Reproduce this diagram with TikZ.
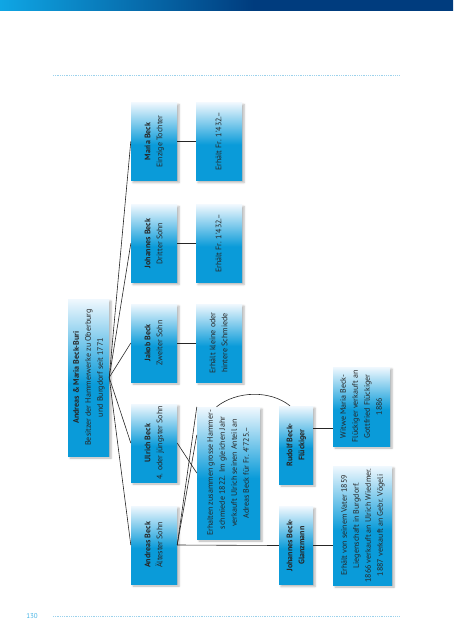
\documentclass[tikz,border=0pt]{standalone}
\usepackage{fontspec}
\setmainfont{PT Sans}
\usepackage{graphicx}
\usetikzlibrary{shadows.blur}

\definecolor{boxblue}{HTML}{0A9BD9}
\definecolor{boxlight}{HTML}{F0F8FE}
\definecolor{barlight}{HTML}{0FA6E4}
\definecolor{bardark}{HTML}{003C7E}
\definecolor{dotblue}{HTML}{9CD2EC}
\definecolor{pageblue}{HTML}{45B4E5}

\pgfdeclareverticalshading{boxfade}{100bp}{color(0bp)=(boxblue); color(48bp)=(boxblue); color(75bp)=(boxlight); color(100bp)=(boxlight)}
\pgfdeclarehorizontalshading{barfade}{100bp}{color(0bp)=(barlight); color(25bp)=(barlight); color(53bp)=(bardark); color(100bp)=(bardark)}

\newcommand{\vlab}[1]{\rotatebox{90}{\begin{tabular}{@{}c@{}}#1\end{tabular}}}

\tikzset{
  famBox/.style={rectangle, inner sep=0pt, shade, shading=boxfade, text=black!85,
    blur shadow={shadow xshift=2pt, shadow yshift=-2pt, shadow opacity=30, shadow blur radius=2pt},
    font=\fontsize{8}{12}\selectfont, minimum width=46pt, minimum height=78pt},
  link/.style={draw=black!85, line width=0.6pt},
  dotrule/.style={draw=dotblue, line width=0.6pt, dash pattern=on 0.6pt off 1.2pt},
}

\begin{document}
\begin{tikzpicture}[x=1pt,y=-1pt]
\useasboundingbox (0,0) rectangle (453,640);
% banner and page rules
\shade[shading=barfade] (0,0) rectangle (453,10);
\draw[dotrule] (53,75) -- (400,75);
\draw[dotrule] (53,616) -- (400,616);
\node[text=pageblue, font=\fontsize{7}{8}\selectfont] (pnum) at (32,616) {130};

% parents
\node[famBox, minimum width=41pt, minimum height=157pt] (eltern) at (88.5,377.5)
  {\vlab{\textbf{Andreas \& Maria Beck-Buri}\\Besitzer der Hammerwerke zu Oberburg\\und Burgdorf seit 1771}};

% children
\node[famBox] (maria) at (154,141.5) {\vlab{\textbf{Maria Beck}\\Einzige Tochter}};
\node[famBox] (johannes) at (154,243.5) {\vlab{\textbf{Johannes Beck}\\Dritter Sohn}};
\node[famBox] (jakob) at (154,343) {\vlab{\textbf{Jakob Beck}\\Zweiter Sohn}};
\node[famBox] (ulrich) at (154,443) {\vlab{\textbf{Ulrich Beck}\\4. oder jüngster Sohn}};
\node[famBox] (andreas) at (154,545) {\vlab{\textbf{Andreas Beck}\\Ältester Sohn}};

% shares
\node[famBox] (erhM) at (219,141.5) {\vlab{Erhält Fr. 1'432.–}};
\node[famBox] (erhJ) at (219,243.5) {\vlab{Erhält Fr. 1'432.–}};
\node[famBox] (erhK) at (219,343) {\vlab{Erhält kleine oder\\hintere Schmiede}};
\node[famBox, minimum width=63pt, minimum height=132pt] (erhZ) at (228.5,473)
  {\vlab{Erhalten zusammen grosse Hammer-\\schmiede 1822. Im gleichen Jahr\\verkauft Ulrich seinen Anteil an\\Adreas Beck für Fr. 4'725.–}};

% grandchildren
\node[famBox, minimum width=34pt] (rudolf) at (296,445) {\vlab{\textbf{Rudolf Beck-}\\\textbf{Flückiger}}};
\node[famBox, minimum width=34pt] (jbg) at (296,545.5) {\vlab{\textbf{Johannes Beck-}\\\textbf{Glanzmann}}};
\node[famBox, minimum width=57pt, minimum height=79pt] (witwe) at (361.5,406.5)
  {\vlab{Witwe Maria Beck-\\Flückiger verkauft an\\Gottfried Flückiger\\1886}};
\node[famBox, minimum width=59pt, minimum height=119pt] (vater) at (362.5,525.5)
  {\vlab{Erhält von seinem Vater 1859\\Liegenschaft in Burgdorf.\\1866 verkauft an Ulrich Wiedmer.\\1887 verkauft an Gebr. Vögeli}};

% connectors
\foreach \kid in {maria,johannes,jakob,ulrich,andreas}
  \draw[link] (eltern.east) -- (\kid.west);
\draw[link] (maria.east) -- (erhM.west);
\draw[link] (johannes.east) -- (erhJ.west);
\draw[link] (jakob.east) -- (erhK.west);
\draw[link] (ulrich.east) -- (erhZ.west);
\draw[link] (andreas.east) -- ([yshift=38pt]erhZ.west);
\draw[link] (andreas.east) -- (erhZ.north west);
\draw[link] (andreas.east) -- (jbg.west);
\draw[link] ([xshift=-12pt]erhZ.north) .. controls +(20,-16) and +(-20,-16) .. ([xshift=-6pt]rudolf.north);
\coordinate (rw) at ([yshift=17pt]rudolf.east);
\draw[link] (rw) -- (rw -| witwe.west);
\draw[link] (jbg.east) -- (jbg.east -| vater.west);
\end{tikzpicture}
\end{document}
